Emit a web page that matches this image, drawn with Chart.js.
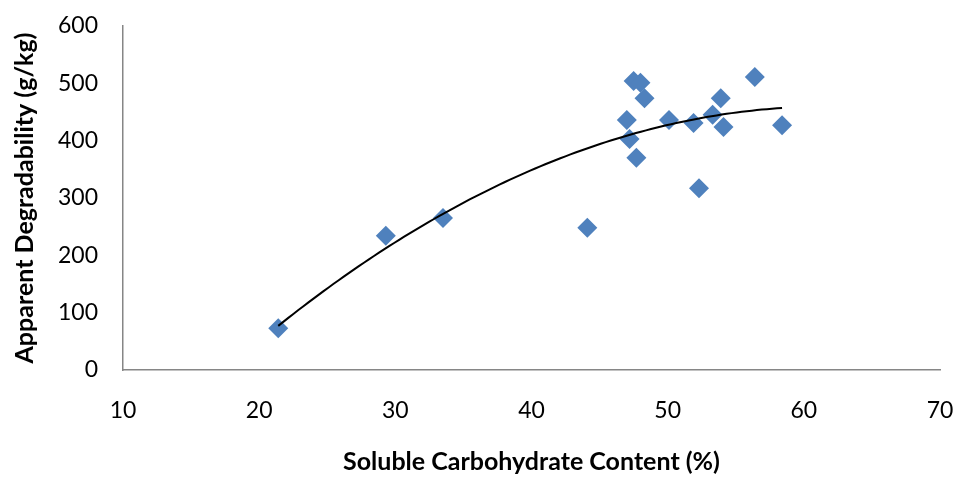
<!DOCTYPE html>
<html>
<head>
<meta charset="utf-8">
<script src="https://cdn.jsdelivr.net/npm/chart.js@4/dist/chart.umd.min.js"></script>
<style>
html,body{margin:0;padding:0;background:#fff;}
#wrap{width:963px;height:477px;position:relative;}
</style>
</head>
<body>
<div id="wrap"><canvas id="c" width="963" height="477"></canvas></div>
<script>
// Data
const carbohydrate = [21.4, 29.3, 33.5, 44.1, 47.0, 47.2, 47.7, 47.5, 48.0, 48.3, 50.1, 51.9, 52.3, 53.3, 53.9, 54.1, 56.4, 58.4];
const degradability = [73, 234, 265, 248, 436, 403, 370, 504, 501, 474, 436, 431, 317, 445, 474, 424, 511, 427];
const xTicks = [10, 20, 30, 40, 50, 60, 70];
const yTicks = [0, 100, 200, 300, 400, 500, 600];
const xTitle = 'Soluble Carbohydrate Content (%)';
const yTitle = 'Apparent Degradability (g/kg)';

// Second-order polynomial (least squares) trendline from the data
function polyFit2(xs, ys) {
  let n = xs.length, sx=0, sx2=0, sx3=0, sx4=0, sy=0, sxy=0, sx2y=0;
  for (let i = 0; i < n; i++) {
    const x = xs[i], y = ys[i];
    sx += x; sx2 += x*x; sx3 += x*x*x; sx4 += x*x*x*x;
    sy += y; sxy += x*y; sx2y += x*x*y;
  }
  const M = [[n, sx, sx2, sy],[sx, sx2, sx3, sxy],[sx2, sx3, sx4, sx2y]];
  for (let i = 0; i < 3; i++) {
    let p = i;
    for (let r = i+1; r < 3; r++) if (Math.abs(M[r][i]) > Math.abs(M[p][i])) p = r;
    [M[i], M[p]] = [M[p], M[i]];
    for (let r = 0; r < 3; r++) {
      if (r === i) continue;
      const f = M[r][i] / M[i][i];
      for (let c = i; c < 4; c++) M[r][c] -= f * M[i][c];
    }
  }
  return [M[0][3]/M[0][0], M[1][3]/M[1][1], M[2][3]/M[2][2]];
}
const coef = polyFit2(carbohydrate, degradability);
const xMin = Math.min(...carbohydrate), xMax = Math.max(...carbohydrate);
const trend = [];
for (let i = 0; i <= 100; i++) {
  const x = xMin + (xMax - xMin) * i / 100;
  trend.push({x: x, y: coef[0] + coef[1]*x + coef[2]*x*x});
}

const font = "Lato, 'Open Sans', sans-serif";
new Chart(document.getElementById('c'), {
  type: 'scatter',
  data: {
    datasets: [
      {
        label: 'Data',
        data: carbohydrate.map((x, i) => ({x: x, y: degradability[i]})),
        pointStyle: 'rectRot',
        pointRadius: 10,
        pointHoverRadius: 10,
        backgroundColor: '#4F81BD',
        borderColor: '#4F81BD',
        borderWidth: 0,
        order: 2
      },
      {
        type: 'line',
        label: 'Trend',
        data: trend,
        borderColor: '#000000',
        borderWidth: 2,
        pointRadius: 0,
        fill: false,
        tension: 0,
        order: 1
      }
    ]
  },
  options: {
    responsive: false,
    animation: false,
    devicePixelRatio: 1,
    layout: {padding: {left: 0, right: 23, top: 26, bottom: 0}},
    plugins: {legend: {display: false}, tooltip: {enabled: false}},
    scales: {
      x: {
        type: 'linear',
        min: 10, max: 70,
        afterBuildTicks: (axis) => { axis.ticks = xTicks.map(v => ({value: v})); },
        afterFit: (axis) => { axis.height = 107; axis.paddingLeft = 0; axis.paddingRight = 0; },
        grid: {display: false, drawTicks: false},
        border: {display: true, color: '#868686', width: 1.5},
        ticks: {color: '#000', font: {family: font, size: 23}, padding: 27, maxRotation: 0},
        title: {display: true, text: xTitle, color: '#000', font: {family: font, size: 25, weight: 'bold'}, padding: {top: 0, bottom: 0}}
      },
      y: {
        type: 'linear',
        min: 0, max: 600,
        afterBuildTicks: (axis) => { axis.ticks = yTicks.map(v => ({value: v})); },
        afterFit: (axis) => { axis.width = 123; axis.paddingTop = 0; axis.paddingBottom = 0; },
        grid: {display: false, drawTicks: false},
        border: {display: true, color: '#868686', width: 1.5},
        ticks: {color: '#000', font: {family: font, size: 23}, padding: 25},
        title: {display: true, text: yTitle, color: '#000', font: {family: font, size: 25, weight: 'bold'}, padding: {top: 10, bottom: 0}}
      }
    }
  }
});
</script>
</body>
</html>
